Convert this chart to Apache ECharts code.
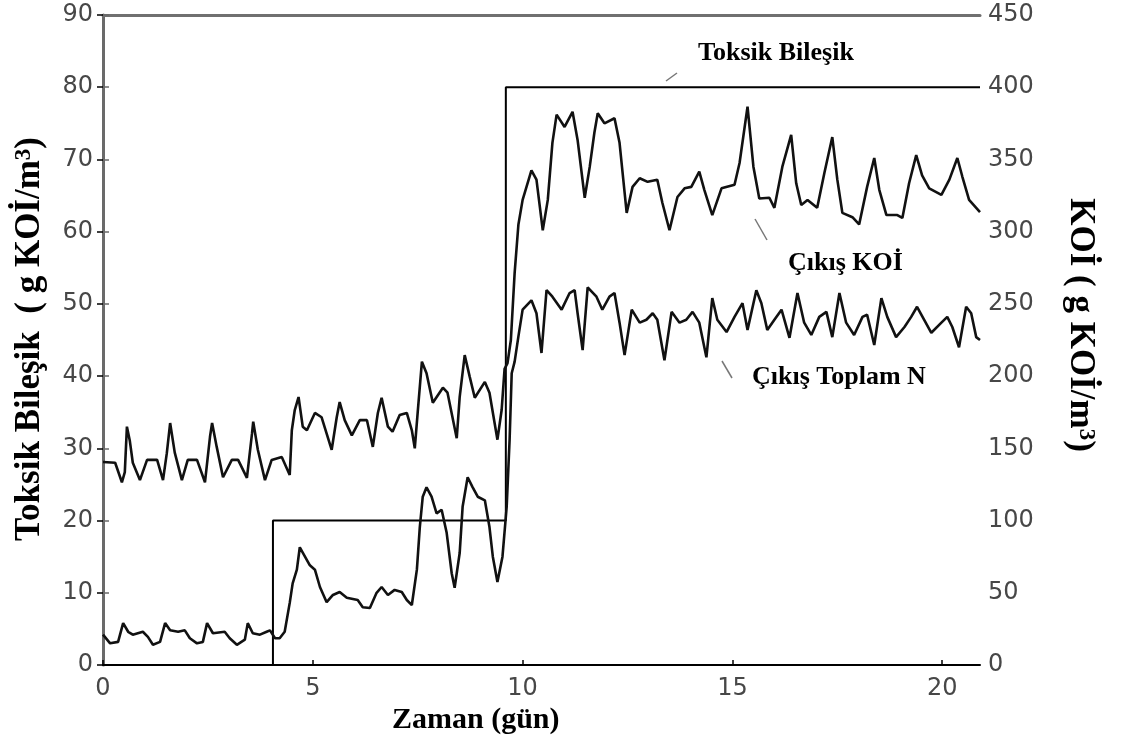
<!DOCTYPE html>
<html>
<head>
<meta charset="utf-8">
<script src="https://cdn.jsdelivr.net/npm/echarts@6/dist/echarts.min.js"></script>
<style>
html,body{margin:0;padding:0;background:#fff;}
#chart{width:1122px;height:749px;}
</style>
</head>
<body>
<div id="chart"></div>
<script>
// ---- data (left axis units) ----
const xTicks = [0, 5, 10, 15, 20];
const leftTicks = [0, 10, 20, 30, 40, 50, 60, 70, 80, 90];
const rightTicks = [0, 50, 100, 150, 200, 250, 300, 350, 400, 450];

const toxDays = [0, 4.05, 4.05, 9.6, 9.6, 20.9];
const toxValues = [0, 0, 20, 20, 80, 80];

const koiDays = [0.0,0.29,0.45,0.52,0.57,0.64,0.71,0.88,1.05,1.29,1.43,1.52,1.6,1.71,1.88,2.02,2.24,2.43,2.55,2.6,2.71,2.86,3.07,3.22,3.43,3.55,3.58,3.69,3.86,4.02,4.26,4.45,4.5,4.57,4.66,4.76,4.86,5.05,5.21,5.45,5.57,5.64,5.76,5.93,6.12,6.29,6.43,6.55,6.64,6.79,6.9,7.07,7.24,7.36,7.43,7.5,7.6,7.71,7.86,8.1,8.21,8.43,8.5,8.62,8.74,8.86,9.1,9.21,9.4,9.5,9.57,9.64,9.72,9.81,9.9,10.0,10.21,10.33,10.48,10.6,10.71,10.81,11.0,11.19,11.31,11.48,11.6,11.71,11.79,11.95,12.19,12.31,12.48,12.62,12.79,12.98,13.21,13.33,13.5,13.69,13.86,14.02,14.21,14.33,14.52,14.74,15.05,15.17,15.36,15.5,15.64,15.88,16.0,16.19,16.4,16.52,16.64,16.79,17.02,17.19,17.38,17.5,17.62,17.86,18.02,18.21,18.38,18.5,18.67,18.93,19.05,19.21,19.38,19.52,19.69,19.98,20.17,20.36,20.48,20.64,20.9];
const koiValues = [28.1,28.0,25.3,26.7,33.0,31.0,28.0,25.6,28.4,28.4,25.6,29.3,33.5,29.4,25.6,28.4,28.4,25.3,31.6,33.5,30.2,26.0,28.4,28.4,25.9,32.0,33.7,29.8,25.6,28.4,28.8,26.3,32.5,35.3,37.1,33.0,32.5,34.9,34.3,29.8,34.3,36.4,33.9,31.8,33.9,33.9,30.2,34.9,37.0,33.0,32.3,34.6,34.9,32.5,30.0,35.0,42.0,40.4,36.3,38.4,37.7,31.4,37.1,42.9,39.9,37.0,39.2,37.7,31.2,35.3,41.0,41.8,45.0,54.3,61.0,64.4,68.5,67.2,60.2,64.4,72.3,76.2,74.5,76.6,72.7,64.7,69.0,73.7,76.4,75.0,75.7,72.3,62.6,66.2,67.4,66.9,67.2,64.0,60.2,64.8,66.0,66.2,68.3,65.8,62.3,66.0,66.5,69.5,77.3,69.0,64.6,64.7,63.3,69.0,73.4,66.7,63.7,64.4,63.3,68.1,73.1,67.2,62.6,62.0,61.0,66.2,70.2,65.8,62.3,62.3,61.9,66.7,70.6,67.8,66.0,65.1,67.2,70.2,67.6,64.4,62.7];

const nDays = [0.0,0.17,0.36,0.48,0.6,0.71,0.95,1.07,1.19,1.36,1.48,1.6,1.79,1.95,2.07,2.24,2.38,2.48,2.62,2.9,3.02,3.19,3.38,3.45,3.57,3.74,3.9,3.98,4.1,4.21,4.33,4.45,4.52,4.62,4.69,4.93,5.05,5.17,5.33,5.48,5.64,5.81,6.07,6.19,6.36,6.52,6.64,6.79,6.95,7.12,7.24,7.36,7.48,7.55,7.62,7.71,7.83,7.95,8.07,8.19,8.31,8.38,8.5,8.57,8.69,8.81,8.93,9.1,9.21,9.29,9.4,9.52,9.62,9.69,9.74,9.81,9.9,10.0,10.21,10.33,10.45,10.57,10.71,10.93,11.12,11.24,11.31,11.43,11.55,11.76,11.9,12.07,12.19,12.31,12.43,12.6,12.79,12.95,13.1,13.21,13.38,13.55,13.74,13.9,14.05,14.21,14.38,14.52,14.64,14.86,15.05,15.24,15.36,15.57,15.69,15.83,16.0,16.17,16.36,16.55,16.71,16.88,17.07,17.24,17.38,17.55,17.71,17.9,18.1,18.21,18.38,18.55,18.69,18.9,19.1,19.26,19.4,19.57,19.74,19.98,20.12,20.24,20.4,20.57,20.69,20.81,20.9];
const nValues = [4.2,3.0,3.2,5.8,4.6,4.2,4.6,3.9,2.8,3.2,5.8,4.8,4.6,4.8,3.7,3.0,3.2,5.8,4.4,4.6,3.7,2.8,3.5,5.8,4.4,4.2,4.6,4.8,3.7,3.7,4.6,8.6,11.3,13.2,16.3,13.8,13.2,10.8,8.7,9.7,10.1,9.3,9.0,8.0,7.9,10.0,10.8,9.7,10.4,10.1,9.0,8.3,13.2,19.1,23.3,24.6,23.3,21.0,21.5,18.3,12.7,10.7,15.5,21.9,26.0,24.6,23.3,22.8,19.1,15.0,11.5,15.0,21.9,31.2,40.4,42.0,45.5,49.2,50.5,48.7,43.2,51.9,51.0,49.2,51.5,51.9,48.7,43.6,52.3,51.0,49.2,51.0,51.5,47.4,42.9,49.2,47.4,47.8,48.7,47.8,42.2,48.9,47.4,47.8,48.9,47.4,42.6,50.8,47.8,46.1,48.2,50.1,46.4,51.9,50.1,46.4,47.8,49.2,45.3,51.5,47.4,45.7,48.2,48.9,45.4,51.5,47.4,45.7,48.2,48.5,44.3,50.8,48.2,45.4,46.8,48.2,49.6,47.8,46.0,47.4,48.2,46.8,44.0,49.6,48.7,45.4,45.0];

const zip = (xs, ys) => xs.map((x, i) => [x, ys[i]]);

const chart = echarts.init(document.getElementById('chart'), null, {renderer: 'canvas'});
const serif = '"Liberation Serif","Times New Roman",serif';
const tickFont = {fontFamily: '"DejaVu Sans",sans-serif', fontSize: 24, color: '#474747'};

const option = {
  animation: false,
  backgroundColor: '#fff',
  grid: {left: 103, right: 142, top: 15, bottom: 84, containLabel: false},
  xAxis: [{
    type: 'value', min: 0, max: 20.9, interval: 5,
    axisLine: {show: true, lineStyle: {color: '#000', width: 2}},
    axisTick: {show: true, inside: true, length: 5, lineStyle: {color: '#000', width: 1.5}},
    axisLabel: Object.assign({margin: 12, showMaxLabel: false,
      formatter: v => xTicks.includes(v) ? String(v) : ''}, tickFont),
    splitLine: {show: false}
  }, {
    type: 'value', min: 0, max: 20.9, position: 'top',
    axisLine: {show: true, onZero: false, lineStyle: {color: '#707070', width: 3}},
    axisTick: {show: false}, axisLabel: {show: false}, splitLine: {show: false}
  }],
  yAxis: [{
    type: 'value', min: 0, max: 90, interval: 10, position: 'left',
    axisLine: {show: true, lineStyle: {color: '#000', width: 2}},
    axisTick: {show: true, inside: false, length: 6, lineStyle: {color: '#000', width: 1.5}},
    axisLabel: Object.assign({margin: 10, formatter: v => leftTicks.includes(v) ? String(v) : ''}, tickFont),
    splitLine: {show: false}
  }, {
    type: 'value', min: 0, max: 450, interval: 50, position: 'right',
    axisLine: {show: true, lineStyle: {color: '#6a6a6a', width: 3}},
    axisTick: {show: true, inside: false, length: 6, lineStyle: {color: '#6a6a6a', width: 1.5}},
    axisLabel: Object.assign({margin: 8, formatter: v => rightTicks.includes(v) ? String(v) : ''}, tickFont),
    splitLine: {show: false}
  }],
  series: [{
    name: 'Toksik Bileşik', type: 'line', data: zip(toxDays, toxValues),
    symbol: 'none', lineStyle: {color: '#000', width: 2}, z: 3
  }, {
    name: 'Çıkış KOİ', type: 'line', data: zip(koiDays, koiValues),
    symbol: 'none', lineStyle: {color: '#111', width: 2.6}, z: 4
  }, {
    name: 'Çıkış Toplam N', type: 'line', data: zip(nDays, nValues),
    symbol: 'none', lineStyle: {color: '#111', width: 2.6}, z: 4
  }],
  graphic: [
    {type: 'text', x: 30, y: 339, rotation: Math.PI / 2,
     style: {text: 'Toksik Bileşik  ( g KOİ/m{s|3})', font: 'bold 35px ' + serif, fill: '#000',
       textAlign: 'center', textVerticalAlign: 'middle', align: 'center', verticalAlign: 'middle',
       rich: {s: {fontSize: 23, fontWeight: 'bold', fontFamily: serif, verticalAlign: 'top', fill: '#000'}}}},
    {type: 'text', x: 1080, y: 325, rotation: -Math.PI / 2,
     style: {text: 'KOİ ( g KOİ/m{s|3})', font: 'bold 35px ' + serif, fill: '#000',
       textAlign: 'center', textVerticalAlign: 'middle', align: 'center', verticalAlign: 'middle',
       rich: {s: {fontSize: 23, fontWeight: 'bold', fontFamily: serif, verticalAlign: 'top', fill: '#000'}}}},
    {type: 'text', x: 392, y: 720,
     style: {text: 'Zaman (gün)', font: 'bold 30px ' + serif, fill: '#000',
       textAlign: 'left', textVerticalAlign: 'middle', align: 'left', verticalAlign: 'middle'}},
    {type: 'text', x: 698, y: 53,
     style: {text: 'Toksik Bileşik', font: 'bold 26px ' + serif, fill: '#000',
       textAlign: 'left', textVerticalAlign: 'middle', align: 'left', verticalAlign: 'middle'}},
    {type: 'text', x: 788, y: 263,
     style: {text: 'Çıkış KOİ', font: 'bold 26px ' + serif, fill: '#000',
       textAlign: 'left', textVerticalAlign: 'middle', align: 'left', verticalAlign: 'middle'}},
    {type: 'text', x: 752, y: 377,
     style: {text: 'Çıkış Toplam N', font: 'bold 26px ' + serif, fill: '#000',
       textAlign: 'left', textVerticalAlign: 'middle', align: 'left', verticalAlign: 'middle'}},
    {type: 'line', shape: {x1: 666, y1: 81, x2: 677, y2: 73}, style: {stroke: '#777', lineWidth: 1.5}},
    {type: 'line', shape: {x1: 755, y1: 219, x2: 767, y2: 240}, style: {stroke: '#777', lineWidth: 1.5}},
    {type: 'line', shape: {x1: 722, y1: 361, x2: 732, y2: 378}, style: {stroke: '#777', lineWidth: 1.5}}
  ]
};
chart.setOption(option);
</script>
</body>
</html>
